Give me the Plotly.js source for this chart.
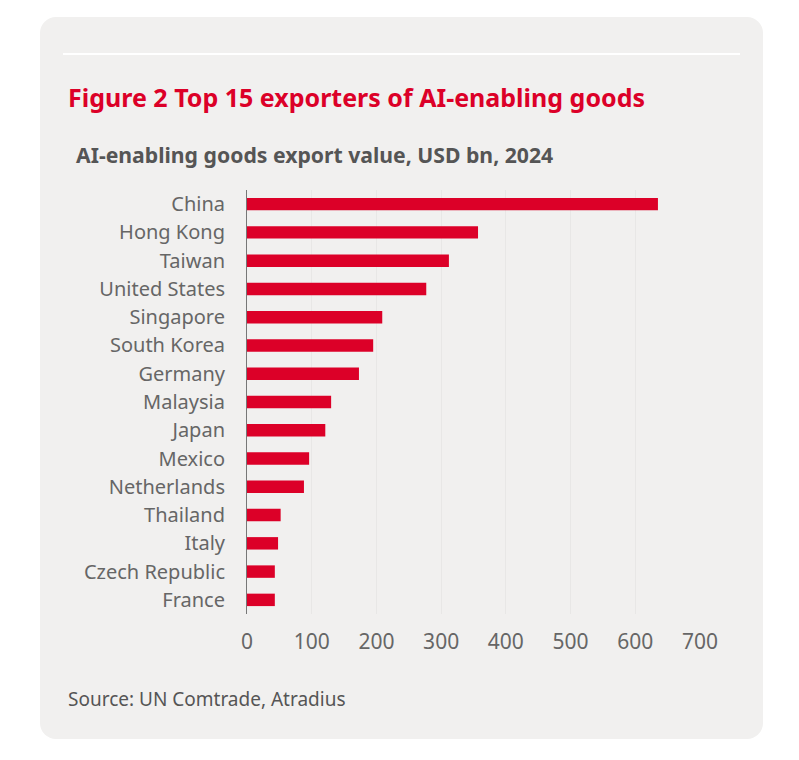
<!DOCTYPE html>
<html>
<head>
<meta charset="utf-8">
<script src="https://cdn.plot.ly/plotly-3.0.1.min.js"></script>
<style>
html,body{margin:0;padding:0;background:#fff;width:799px;height:760px;overflow:hidden}
#panel{position:absolute;left:40px;top:17px;width:723px;height:722px;border-radius:16px;background:#f1f0ef}
#rule{position:absolute;left:63px;top:53px;width:677px;height:2px;background:#fff}
#chart{position:absolute;left:0;top:0;width:799px;height:760px}
</style>
</head>
<body>
<div id="panel"></div>
<div id="rule"></div>
<div id="chart"></div>
<script>
const categories = ["China","Hong Kong","Taiwan","United States","Singapore","South Korea","Germany","Malaysia","Japan","Mexico","Netherlands","Thailand","Italy","Czech Republic","France"];
const exportValues = [635,357,312,277,209,195,173,130,121,96,88,52,48,43,43];
const xTicks = [0,100,200,300,400,500,600,700];
const titleText = "Figure 2 Top 15 exporters of AI-enabling goods";
const subtitleText = "AI-enabling goods export value, USD bn, 2024";
const sourceText = "Source: UN Comtrade, Atradius";
const W = 799, H = 760;
const fontName = '"Noto Sans", sans-serif';
const trace = {
  type: "bar", orientation: "h",
  y: categories, x: exportValues,
  marker: {color: "#dc0028"},
  width: 0.44,
  hoverinfo: "x+y"
};
const plotH = H - 190 - 146;
const plotW = W - 247 - 99;
const layout = {
  width: W, height: H,
  paper_bgcolor: "rgba(0,0,0,0)",
  plot_bgcolor: "rgba(0,0,0,0)",
  margin: {l: 247, r: 99, t: 190, b: 146, pad: 0},
  showlegend: false,
  font: {family: fontName, color: "#666666", size: 20},
  title: {
    text: "<b>" + titleText + "</b>",
    font: {family: fontName, size: 25, color: "#dc0028"},
    x: 68 / W, xanchor: "left", xref: "container",
    y: 1 - 98.5 / H, yanchor: "middle", yref: "container"
  },
  xaxis: {
    range: [0, 700], tickvals: xTicks, ticktext: xTicks.map(String),
    showgrid: true, gridcolor: "#e8e7e6", gridwidth: 1,
    zeroline: false, showline: false, ticks: "",
    tickfont: {size: 21, color: "#666666", family: fontName},
    ticklabelstandoff: 13
  },
  yaxis: {
    type: "category", autorange: "reversed",
    showline: true, linecolor: "#777777", linewidth: 1,
    showgrid: false, zeroline: false, ticks: "",
    tickfont: {size: 20, color: "#666666", family: fontName},
    ticklabelstandoff: 17
  },
  annotations: [
    {text: "<b>" + subtitleText + "</b>", xref: "paper", yref: "paper",
     x: (74 - 247) / plotW, y: 1 + (190 - 154.5) / plotH,
     xanchor: "left", yanchor: "middle", showarrow: false,
     font: {family: fontName, size: 21.2, color: "#555555"}},
    {text: sourceText, xref: "paper", yref: "paper",
     x: (66 - 247) / plotW, y: -(699 - 614) / plotH,
     xanchor: "left", yanchor: "middle", showarrow: false,
     font: {family: fontName, size: 19, color: "#555555"}}
  ]
};
Plotly.newPlot("chart", [trace], layout, {displayModeBar: false, staticPlot: true});
</script>
</body>
</html>
